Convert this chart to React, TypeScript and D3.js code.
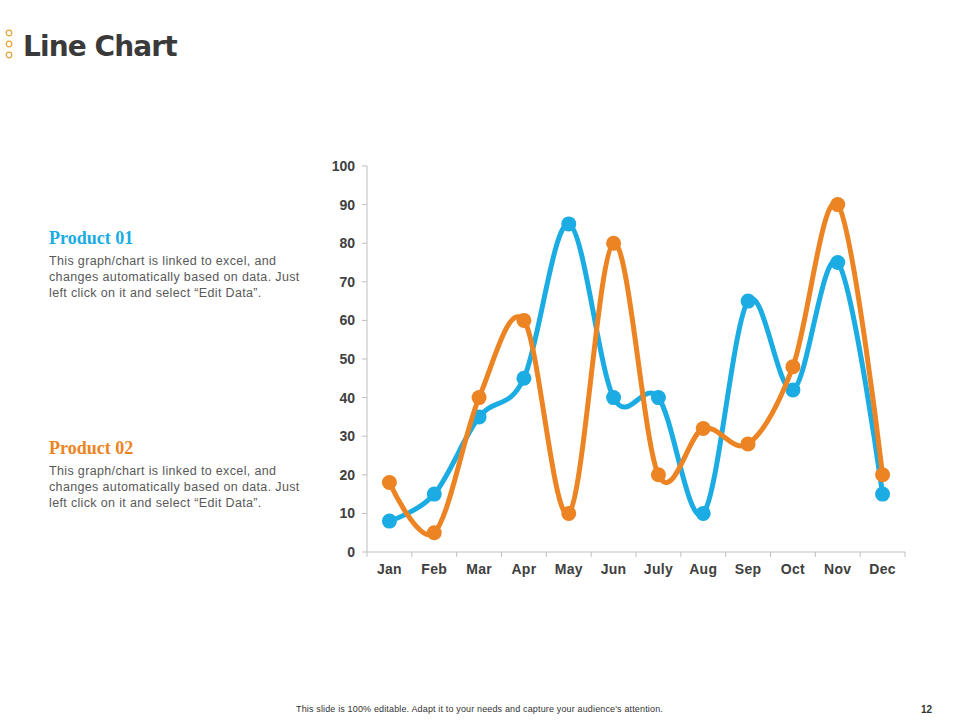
import * as d3 from 'd3';

const months = ['Jan', 'Feb', 'Mar', 'Apr', 'May', 'Jun', 'July', 'Aug', 'Sep', 'Oct', 'Nov', 'Dec'];
const product01 = [8, 15, 35, 45, 85, 40, 40, 10, 65, 42, 75, 15];
const product02 = [18, 5, 40, 60, 10, 80, 20, 32, 28, 48, 90, 20];
const yTicks = [0, 10, 20, 30, 40, 50, 60, 70, 80, 90, 100];

const blue = '#1BACE3';
const orange = '#EC8424';
const bodyText = 'This graph/chart is linked to excel, and|changes automatically based on data. Just|left click on it and select \u201cEdit Data\u201d.'.split('|');

const App = () => {
  const width = 960;
  const height = 720;
  const left = 367;
  const right = 905;
  const top = 166;
  const bottom = 552;

  // band scale for months, linear for values
  const x = d3.scaleBand<string>().domain(months).range([left, right]);
  const y = d3.scaleLinear().domain([0, 100]).range([bottom, top]);
  const cx = (m: string) => (x(m) ?? 0) + x.bandwidth() / 2;

  const line = d3
    .line<number>()
    .x((_, i) => cx(months[i]))
    .y((d) => y(d))
    .curve(d3.curveCardinal.tension(0));

  const series = [
    { name: 'Product 01', values: product01, color: blue },
    { name: 'Product 02', values: product02, color: orange },
  ];

  return (
    <svg
      width={width}
      height={height}
      style={{ position: 'absolute', left: 0, top: 0, background: '#fff' }}
    >
      {/* header */}
      {[33, 44, 55].map((cy) => (
        <circle key={cy} cx={9} cy={cy} r={2.8} fill="none" stroke="#E9A23B" strokeWidth={1.2} />
      ))}
      <text x={23} y={56} fontFamily="'DejaVu Sans', sans-serif" fontWeight={700} fontSize={28} letterSpacing={-0.9} fill="#3A3A3A">
        Line Chart
      </text>

      {/* side notes */}
      {series.map((s, k) => {
        const base = k === 0 ? 244 : 454;
        return (
          <g key={s.name}>
            <text x={49} y={base} fontFamily="'Liberation Serif', 'DejaVu Serif', serif" fontWeight={700} fontSize={18} fill={s.color}>
              {s.name}
            </text>
            {bodyText.map((t, i) => (
              <text key={i} x={49} y={base + 21 + i * 16} fontFamily="'Liberation Sans', Arial, sans-serif" fontSize={12.5} letterSpacing={0.35} fill="#595959">
                {t}
              </text>
            ))}
          </g>
        );
      })}

      {/* axes */}
      <line x1={left} x2={left} y1={top} y2={bottom} stroke="#BFBFBF" />
      <line x1={left} x2={right} y1={bottom} y2={bottom} stroke="#BFBFBF" />
      {yTicks.map((t) => (
        <g key={t}>
          <line x1={left - 5} x2={left} y1={y(t)} y2={y(t)} stroke="#BFBFBF" />
          <text x={355} y={y(t) + 5} textAnchor="end" fontFamily="'Liberation Sans', Arial, sans-serif" fontWeight={700} fontSize={14} fill="#404040">
            {t}
          </text>
        </g>
      ))}
      {months.map((m) => (
        <line key={`t${m}`} x1={x(m) ?? 0} x2={x(m) ?? 0} y1={bottom} y2={bottom + 5} stroke="#BFBFBF" />
      ))}
      <line x1={right} x2={right} y1={bottom} y2={bottom + 5} stroke="#BFBFBF" />
      {months.map((m) => (
        <text key={m} x={cx(m)} y={574} textAnchor="middle" fontFamily="'Liberation Sans', Arial, sans-serif" fontWeight={700} fontSize={14} letterSpacing={0.3} fill="#404040">
          {m}
        </text>
      ))}

      {/* series */}
      {series.map((s) => (
        <g key={s.name}>
          <path d={line(s.values) ?? ''} fill="none" stroke={s.color} strokeWidth={5} strokeLinejoin="round" strokeLinecap="round" />
          {s.values.map((v, i) => (
            <circle key={i} cx={cx(months[i])} cy={y(v)} r={7.5} fill={s.color} />
          ))}
        </g>
      ))}

      {/* footer */}
      <text x={296} y={712} fontFamily="'Liberation Sans', Arial, sans-serif" fontSize={9} letterSpacing={0.15} fill="#333">
        This slide is 100% editable. Adapt it to your needs and capture your audience's attention.
      </text>
      <text x={921} y={713} fontFamily="'Liberation Sans', Arial, sans-serif" fontWeight={700} fontSize={10} fill="#333">
        12
      </text>
    </svg>
  );
};

export default App;
